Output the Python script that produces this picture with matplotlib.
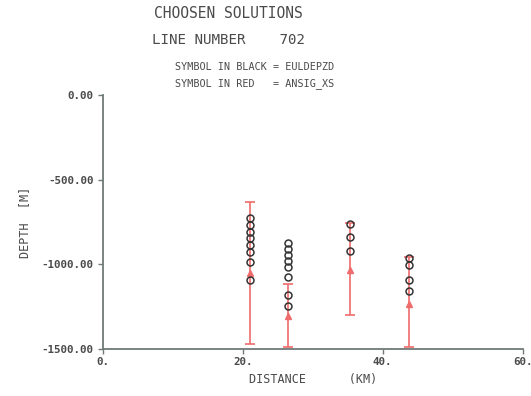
import matplotlib.pyplot as plt

# distances (km) of the chosen solutions
dist = [21.1, 26.5, 35.3, 43.8]
# black symbols (EULDEPZD), depths in m
black_depths = [
    [-728, -769, -811, -846, -888, -929, -988, -1095],
    [-874, -909, -945, -980, -1019, -1078, -1182, -1244],
    [-765, -838, -923],
    [-962, -1006, -1095, -1158],
]
# red symbols (ANSIG_XS) with their ranges
red_depth = [-1053, -1308, -1031, -1237]
red_top = [-631, -1118, -759, -956]
red_bottom = [-1473, -1489, -1298, -1489]

xticks = [0, 20, 40, 60]
xticklabels = ['0.', '20.', '40.', '60.']
yticks = [0, -500, -1000, -1500]
yticklabels = ['0.00', '-500.00', '-1000.00', '-1500.00']

axis_col = '#6f7a78'
text_col = '#4a4a4a'
red = '#f06b6b'
font = 'DejaVu Sans Mono'

fig = plt.figure(figsize=(5.31, 3.96), dpi=100)
ax = fig.add_axes([0.1934, 0.119, 0.791, 0.641])

for x, lo, hi, r in zip(dist, red_bottom, red_top, red_depth):
    ax.errorbar([x], [r], yerr=[[r - lo], [hi - r]], fmt='^', color=red,
                ms=4.5, lw=1.2, capsize=3.5, capthick=1.2, zorder=2)

for x, ds in zip(dist, black_depths):
    ax.plot([x] * len(ds), ds, 'o', mfc='none', mec='#333333', mew=1.1,
            ms=5, zorder=3)

ax.set_xlim(0, 60)
ax.set_ylim(-1500, 0)
ax.set_xticks(xticks)
ax.set_xticklabels(xticklabels)
ax.set_yticks(yticks)
ax.set_yticklabels(yticklabels)
for s in ['top', 'right']:
    ax.spines[s].set_visible(False)
for s in ['left', 'bottom']:
    ax.spines[s].set_color(axis_col)
    ax.spines[s].set_linewidth(1.3)
ax.tick_params(colors=axis_col, labelcolor=text_col, length=3.5, width=1,
               labelsize=7.8)
ax.tick_params(axis='x', pad=2)
ax.tick_params(axis='y', pad=3)
for lab in ax.get_xticklabels() + ax.get_yticklabels():
    lab.set_family(font)
    lab.set_fontweight('bold')

ax.set_xlabel('DISTANCE      (KM)', family=font, fontsize=8.5, color=text_col,
              labelpad=5)
ax.set_ylabel('DEPTH  [M]', family=font, fontsize=8.5, color=text_col,
              labelpad=8)

fig.text(0.43, 0.965, 'CHOOSEN SOLUTIONS', family=font, fontsize=10.5,
         color=text_col, ha='center', va='center')
fig.text(0.286, 0.899, 'LINE NUMBER    702', family=font, fontsize=10.2,
         color=text_col, ha='left', va='center')
fig.text(0.33, 0.832, 'SYMBOL IN BLACK = EULDEPZD', family=font, fontsize=7.3,
         color=text_col, ha='left', va='center')
fig.text(0.33, 0.79, 'SYMBOL IN RED   = ANSIG_XS', family=font, fontsize=7.3,
         color=text_col, ha='left', va='center')

fig.savefig('out.png', dpi=100)
